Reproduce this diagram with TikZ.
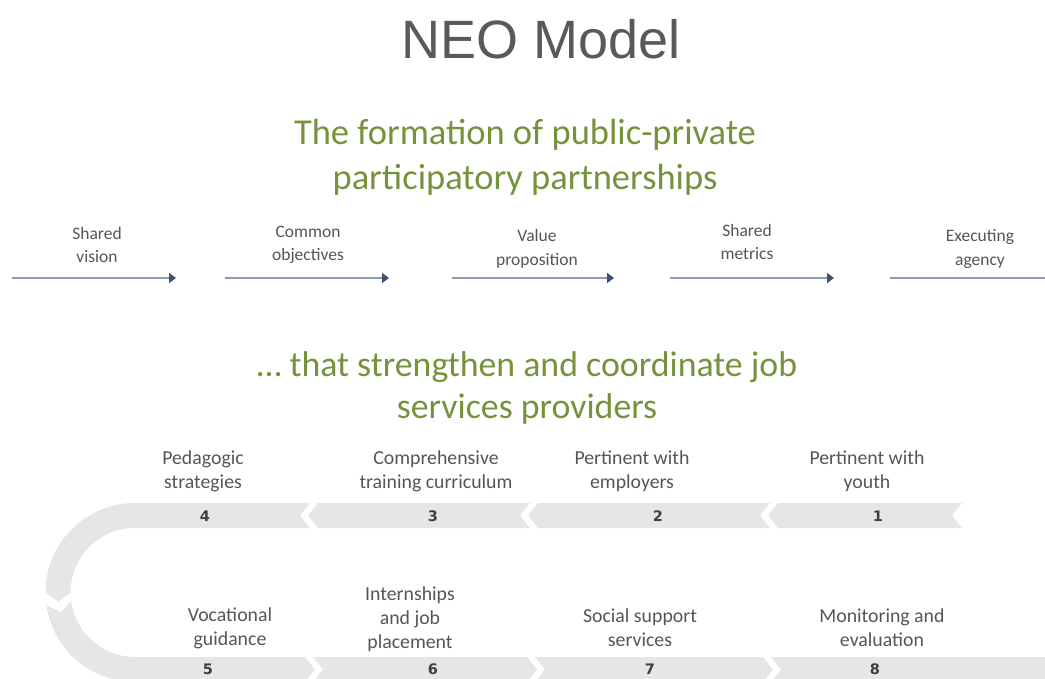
\documentclass[tikz,border=0pt]{standalone}
\usepackage{fontspec}
\setmainfont{Carlito}
\newfontfamily\titlefont{Liberation Sans}
\newfontfamily\digitfont{DejaVu Sans}
\usetikzlibrary{arrows.meta}
\definecolor{titlegray}{HTML}{595959}
\definecolor{headgreen}{HTML}{76923C}
\definecolor{labelgray}{HTML}{555555}
\definecolor{flowline}{HTML}{8C9AAE}
\definecolor{flowhead}{HTML}{3E5170}
\definecolor{bandgray}{HTML}{E6E6E6}
\definecolor{digitgray}{HTML}{3F3F3F}

\begin{document}
\begin{tikzpicture}[x=1pt,y=-1pt,
  every node/.style={inner sep=0pt},
  heading/.style={text=headgreen,align=center},
  steplabel/.style={text=labelgray,align=center,font=\fontsize{17.5}{23.5}\selectfont},
  ringlabel/.style={text=labelgray,align=center,font=\fontsize{19.8}{24}\selectfont},
  digit/.style={text=digitgray,font=\digitfont\bfseries\fontsize{14.5}{14.5}\selectfont},
  flow/.style={draw=flowline,line width=2.2pt,-{Triangle[length=7pt,width=10pt,fill=flowhead,color=flowhead]}},
  flowplain/.style={draw=flowline,line width=2.2pt},
  ribbon/.style={fill=bandgray,draw=none}]
\useasboundingbox (0,0) rectangle (1045,678);
\clip (0,0) rectangle (1045,678);

% title and headings
\node[text=titlegray,font=\titlefont\fontsize{54}{60}\selectfont] (title) at (541,39) {NEO Model};
\node[heading,font=\fontsize{36.5}{45}\selectfont] (head1) at (525,157) {The formation of public-private\\participatory partnerships};
\node[heading,font=\fontsize{35.8}{42.5}\selectfont] (head2) at (527,388) {\dots\ that strengthen and coordinate job\\services providers};

% partnership stages
\node[steplabel] (vision)  at (97,245)  {Shared\\vision};
\node[steplabel] (goals)   at (308,245) {Common\\objectives};
\node[steplabel] (value)   at (537,249) {Value\\proposition};
\node[steplabel] (metrics) at (747,242) {Shared\\metrics};
\node[steplabel] (agency)  at (980,249) {Executing\\agency};

\coordinate (f1a) at (12,278);  \coordinate (f1b) at (176,278);
\coordinate (f2a) at (225,278); \coordinate (f2b) at (389,278);
\coordinate (f3a) at (452,278); \coordinate (f3b) at (614,278);
\coordinate (f4a) at (670,278); \coordinate (f4b) at (834,278);
\coordinate (f5a) at (890,278); \coordinate (f5b) at (1045,278);
\draw[flow] (f1a) -- (f1b);
\draw[flow] (f2a) -- (f2b);
\draw[flow] (f3a) -- (f3b);
\draw[flow] (f4a) -- (f4b);
\draw[flowplain] (f5a) -- (f5b);

% ribbon: top row runs leftwards, turns round on the left, bottom row runs rightwards
\begin{scope}[shift={(135,592.5)}]
  % segment 4 with the upper turn
  \fill[ribbon] (175,-89.5) -- (0,-89.5) arc[start angle=270,end angle=180,radius=89.5]
    -- (173:77) -- (180:64.5) arc[start angle=180,end angle=270,radius=64.5]
    -- (175,-64.5) -- (165,-77) -- cycle;
  % segment 5 with the lower turn
  \fill[ribbon] (172:89.5) arc[start angle=172,end angle=90,radius=89.5]
    -- (170,89.5) -- (180,77) -- (170,64.5) -- (0,64.5)
    arc[start angle=90,end angle=172,radius=64.5] -- (165:77) -- cycle;
\end{scope}
% top row chevrons (pointing left)
\fill[ribbon] (308,515.5) -- (318,503) -- (530,503) -- (520,515.5) -- (530,528) -- (318,528) -- cycle;
\fill[ribbon] (528,515.5) -- (538,503) -- (770,503) -- (760,515.5) -- (770,528) -- (538,528) -- cycle;
\fill[ribbon] (768,515.5) -- (778,503) -- (962,503) -- (952,515.5) -- (962,528) -- (778,528) -- cycle;
% bottom row chevrons (pointing right)
\fill[ribbon] (313,657) -- (527,657) -- (537,669.5) -- (527,682) -- (313,682) -- (323,669.5) -- cycle;
\fill[ribbon] (535,657) -- (763,657) -- (773,669.5) -- (763,682) -- (535,682) -- (545,669.5) -- cycle;
\fill[ribbon] (771,657) -- (1060,657) -- (1060,682) -- (771,682) -- (781,669.5) -- cycle;

% step numbers
\node[digit] (n4) at (205,516) {4};
\node[digit] (n3) at (433,516) {3};
\node[digit] (n2) at (658,516) {2};
\node[digit] (n1) at (878,516) {1};
\node[digit] (n5) at (208,669) {5};
\node[digit] (n6) at (433,669) {6};
\node[digit] (n7) at (650,669) {7};
\node[digit] (n8) at (875,669) {8};

% step titles
\node[ringlabel] (s4) at (203,471) {Pedagogic\\strategies};
\node[ringlabel] (s3) at (436,471) {Comprehensive\\training curriculum};
\node[ringlabel] (s2) at (632,471) {Pertinent with\\employers};
\node[ringlabel] (s1) at (867,471) {Pertinent with\\youth};
\node[ringlabel] (s5) at (230,628) {Vocational\\guidance};
\node[ringlabel] (s6) at (410,619) {Internships\\and job\\placement};
\node[ringlabel] (s7) at (640,628) {Social support\\services};
\node[ringlabel] (s8) at (882,628) {Monitoring and\\evaluation};
\end{tikzpicture}
\end{document}
